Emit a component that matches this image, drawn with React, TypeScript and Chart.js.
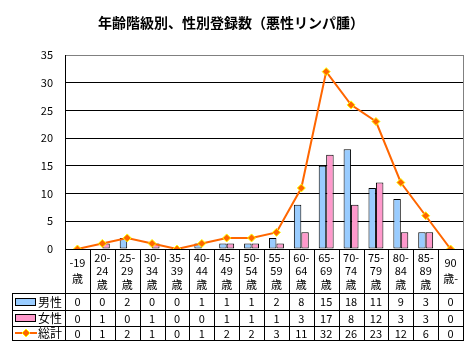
import React, { useEffect, useRef } from "react";
import { Chart, registerables } from "chart.js";

Chart.register(...registerables);

const TITLE = "年齢階級別、性別登録数（悪性リンパ腫）";
const categories: string[][] = [
  ["-19", "歳"],
  ["20-", "24", "歳"],
  ["25-", "29", "歳"],
  ["30-", "34", "歳"],
  ["35-", "39", "歳"],
  ["40-", "44", "歳"],
  ["45-", "49", "歳"],
  ["50-", "54", "歳"],
  ["55-", "59", "歳"],
  ["60-", "64", "歳"],
  ["65-", "69", "歳"],
  ["70-", "74", "歳"],
  ["75-", "79", "歳"],
  ["80-", "84", "歳"],
  ["85-", "89", "歳"],
  ["90", "歳-"],
];
const male = [0, 0, 2, 0, 0, 1, 1, 1, 2, 8, 15, 18, 11, 9, 3, 0];
const female = [0, 1, 0, 1, 0, 0, 1, 1, 1, 3, 17, 8, 12, 3, 3, 0];
const total = [0, 1, 2, 1, 0, 1, 2, 2, 3, 11, 32, 26, 23, 12, 6, 0];
const seriesNames = ["男性", "女性", "総計"];
const yMin = 0;
const yMax = 35;
const yStep = 5;

const MALE_COLOR = "#99CCFF";
const FEMALE_COLOR = "#FF99CC";
const LINE_COLOR = "#FF6600";
const MARKER_BORDER = "#FFFF00";
const FONT = '"Noto Sans CJK JP", "DejaVu Sans", sans-serif';

const tablePlugin = {
  id: "dataTable",
  afterDraw(chart: any) {
    const { ctx, chartArea } = chart;
    const xs = chart.scales.x;
    const n = categories.length;
    const left = chartArea.left;
    const right = chartArea.right;
    const top = chartArea.top;
    const bottom = chartArea.bottom;
    const colW = (right - left) / n;
    const rows = [bottom, bottom + 44, bottom + 61, bottom + 77, bottom + 91];
    const legendLeft = 12;
    const px = (v: number) => Math.round(v) + 0.5;

    ctx.save();
    // title
    ctx.fillStyle = "#000";
    ctx.font = `bold 14px ${FONT}`;
    ctx.textAlign = "center";
    ctx.textBaseline = "middle";
    ctx.fillText(TITLE, 231, 23);

    // plot right border (grey)
    ctx.strokeStyle = "#808080";
    ctx.lineWidth = 1;
    ctx.beginPath();
    ctx.moveTo(px(right), top);
    ctx.lineTo(px(right), bottom);
    ctx.stroke();

    // table lines
    ctx.strokeStyle = "#000";
    ctx.beginPath();
    for (let i = 0; i <= n; i++) {
      const xx = px(left + i * colW);
      ctx.moveTo(xx, bottom);
      ctx.lineTo(xx, rows[4]);
    }
    for (let r = 1; r <= 4; r++) {
      ctx.moveTo(legendLeft, px(rows[r]));
      ctx.lineTo(px(right) + 0.5, px(rows[r]));
    }
    ctx.moveTo(px(legendLeft), rows[1]);
    ctx.lineTo(px(legendLeft), rows[4]);
    ctx.stroke();

    // category labels
    ctx.font = `11px ${FONT}`;
    ctx.textAlign = "center";
    ctx.textBaseline = "middle";
    const labelMid = (rows[0] + rows[1]) / 2;
    categories.forEach((lines, i) => {
      const cx = xs.getPixelForValue(i);
      const lh = lines.length === 3 ? 13.5 : 16;
      const start = labelMid - ((lines.length - 1) * lh) / 2;
      lines.forEach((t, k) => ctx.fillText(t, cx, start + k * lh));
    });

    // values
    const series = [male, female, total];
    series.forEach((vals, r) => {
      const cy = (rows[r + 1] + rows[r + 2]) / 2 + 0.5;
      vals.forEach((v, i) => {
        ctx.fillText(String(v), xs.getPixelForValue(i), cy);
      });
    });

    // legend keys
    ctx.textAlign = "left";
    ctx.font = `12px ${FONT}`;
    for (let r = 0; r < 3; r++) {
      const cy = (rows[r + 1] + rows[r + 2]) / 2;
      if (r < 2) {
        ctx.fillStyle = r === 0 ? MALE_COLOR : FEMALE_COLOR;
        ctx.fillRect(15, Math.round(cy) - 3, 20, 6);
        ctx.strokeStyle = "#000";
        ctx.strokeRect(15.5, Math.round(cy) - 3.5, 20, 7);
      } else {
        ctx.strokeStyle = LINE_COLOR;
        ctx.lineWidth = 2;
        ctx.beginPath();
        ctx.moveTo(15, Math.round(cy));
        ctx.lineTo(37, Math.round(cy));
        ctx.stroke();
        ctx.lineWidth = 1;
        const mx = 26;
        const my = Math.round(cy);
        ctx.beginPath();
        ctx.moveTo(mx, my - 4);
        ctx.lineTo(mx + 4, my);
        ctx.lineTo(mx, my + 4);
        ctx.lineTo(mx - 4, my);
        ctx.closePath();
        ctx.fillStyle = LINE_COLOR;
        ctx.fill();
        ctx.strokeStyle = MARKER_BORDER;
        ctx.stroke();
      }
      ctx.fillStyle = "#000";
      ctx.fillText(seriesNames[r], 38, cy + 0.5);
    }
    ctx.restore();
  },
};

export default function App() {
  const ref = useRef<HTMLCanvasElement | null>(null);

  useEffect(() => {
    if (!ref.current) return;
    const chart = new Chart(ref.current, {
      type: "bar",
      data: {
        labels: categories.map((c) => c.join("")),
        datasets: [
          {
            type: "line",
            label: seriesNames[2],
            data: total,
            order: 0,
            borderColor: LINE_COLOR,
            borderWidth: 2,
            backgroundColor: LINE_COLOR,
            pointStyle: "rectRot",
            pointRadius: 4,
            pointBackgroundColor: LINE_COLOR,
            pointBorderColor: MARKER_BORDER,
            pointBorderWidth: 1,
            tension: 0,
            fill: false,
          } as any,
          {
            type: "bar",
            label: seriesNames[0],
            data: male,
            order: 1,
            backgroundColor: MALE_COLOR,
            borderColor: "#000",
            borderWidth: 1,
            borderSkipped: false,
            categoryPercentage: 0.6,
            barPercentage: 1,
          },
          {
            type: "bar",
            label: seriesNames[1],
            data: female,
            order: 2,
            backgroundColor: FEMALE_COLOR,
            borderColor: "#000",
            borderWidth: 1,
            borderSkipped: false,
            categoryPercentage: 0.6,
            barPercentage: 1,
          },
        ],
      },
      options: {
        responsive: false,
        animation: false,
        devicePixelRatio: 1,
        layout: { padding: { left: 0, right: 12, top: 55, bottom: 103 } },
        plugins: {
          legend: { display: false },
          title: { display: false },
          tooltip: { enabled: false },
        },
        scales: {
          x: {
            display: false,
            offset: true,
          },
          y: {
            min: yMin,
            max: yMax,
            afterFit: (s: any) => {
              s.width = 65;
            },
            ticks: {
              stepSize: yStep,
              padding: 12,
              color: "#000",
              font: { size: 11, family: FONT },
            },
            grid: {
              drawTicks: false,
              color: (c: any) => (c.tick && c.tick.value === yMax ? "#808080" : "#000"),
              lineWidth: 1,
            },
            border: { display: true, color: "#000", width: 1 },
          },
        },
      },
      plugins: [tablePlugin],
    });
    return () => chart.destroy();
  }, []);

  return (
    <div style={{ position: "absolute", left: 0, top: 0, width: 475, height: 352, background: "#fff" }}>
      <canvas ref={ref} width={475} height={352} />
    </div>
  );
}
